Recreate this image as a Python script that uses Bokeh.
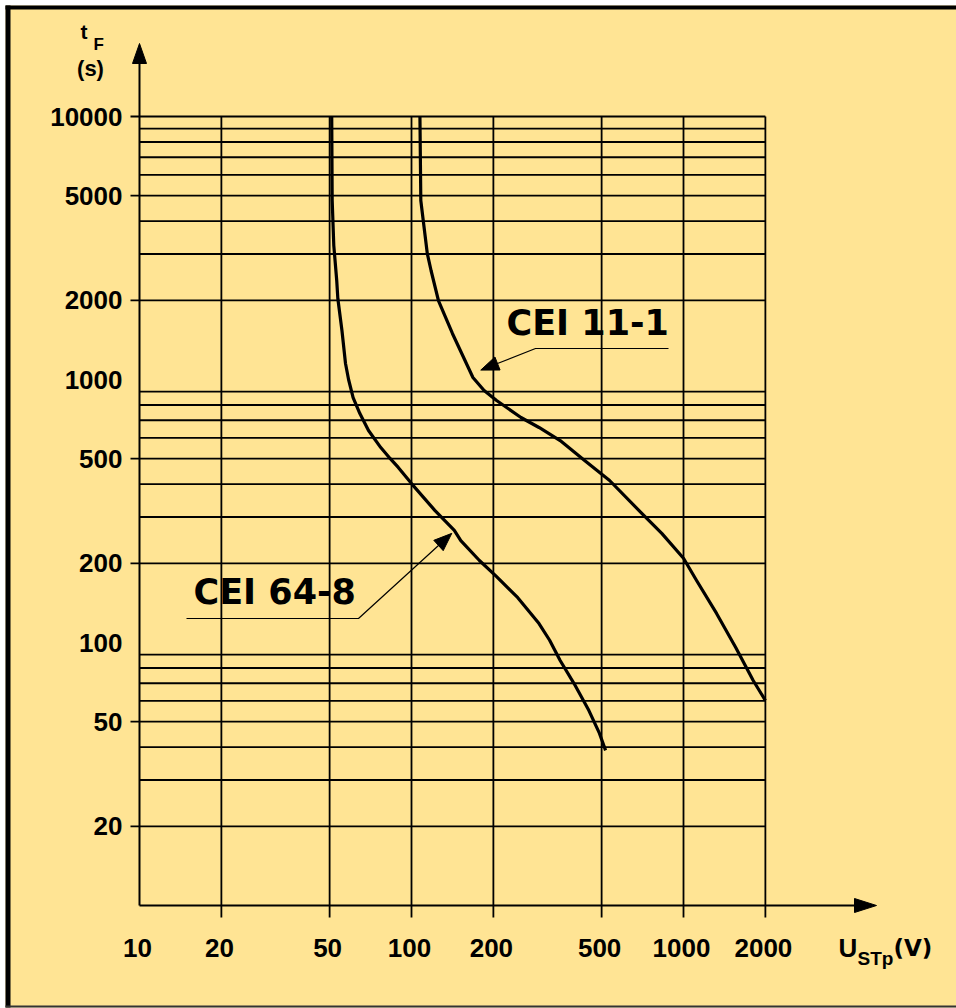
import math
from bokeh.plotting import figure
from bokeh.models import Range1d
from bokeh.core.properties import value
from bokeh.embed import file_html
from bokeh.resources import INLINE

# ---------------- data ----------------
# CEI 64-8 curve: U_STp (V) vs t_F (s)
u_cei_64_8 = [50.9, 51.1, 51.8, 53.1, 53.6, 55.5, 57.2, 58.7, 61.0, 64.6, 69.5, 77.1,
              83.4, 89.4, 100, 121.8, 143.7, 151.8, 177.7, 205.5, 245.9, 294.3, 322,
              352, 396, 449, 491, 517]
t_cei_64_8 = [10000, 4794, 3232, 2379, 2032, 1536, 1150, 1000, 854, 742, 640, 551,
              501, 463, 402, 318, 267, 244, 205, 178, 148, 118, 102,
              85.4, 69.8, 55.1, 45.1, 38.9]

# CEI 11-1 curve
u_cei_11_1 = [107.4, 108.2, 110.8, 114.3, 118.0, 125.6, 141.4, 161.7, 168.2, 184.9,
              205.5, 252.6, 294.3, 352, 433, 535, 704, 832, 1000, 1117, 1323, 1556,
              1804, 2000]
t_cei_11_1 = [10000, 4794, 3920, 3013, 2597, 1997, 1496, 1111, 1018, 908,
              832, 717, 657, 586, 492, 413, 309, 260, 209, 172, 129, 95.7,
              71.7, 60.2]

x_ticks = [10, 20, 50, 100, 200, 500, 1000, 2000]
x_tick_labels = ["10", "20", "50", "100", "200", "500", "1000", "2000"]
y_ticks = [20, 50, 100, 200, 500, 1000, 2000, 5000, 10000]
y_tick_labels = ["20", "50", "100", "200", "500", "1000", "2000", "5000", "10000"]
x_grid = [20, 50, 100, 200, 500, 1000, 2000]
y_grid = [m * 10 ** k for k in (1, 2, 3) for m in range(2, 10)] + [10000]
series_names = ["CEI 64-8", "CEI 11-1"]

# ---------------- layout helpers (screen px -> data) ----------------
W, H = 956, 1008
X0PX, XDEC = 139, 272   # screen x of U=10, px per decade
Y0PX, YDEC = 905, 263   # screen y of t=10, px per decade
X_MIN, X_MAX = 10, 2000
Y_MIN, Y_MAX = 10, 10000


def sx(px):
    return 10 ** (1 + (px - X0PX) / XDEC)


def sy(py):
    return 10 ** (1 + (Y0PX - py) / YDEC)


YELLOW = "#FFE494"
INK = "#000000"
BOLD_SANS = value("Liberation Sans")
WIDE_SANS = value("DejaVu Sans")
GRID_W = 1.8

p = figure(width=W, height=H, x_axis_type="log", y_axis_type="log",
           x_range=Range1d(sx(0), sx(W)), y_range=Range1d(sy(H), sy(0)),
           x_axis_location=None, y_axis_location=None,
           toolbar_location=None, output_backend="svg", min_border=0)
p.outline_line_color = None
p.background_fill_color = "white"
p.border_fill_color = "white"
p.grid.visible = False

# panel background and border
p.quad(left=[sx(5)], right=[sx(W + 5)], bottom=[sy(1007)], top=[sy(5)],
       fill_color=YELLOW, line_color=None)
p.quad(left=[sx(5)], right=[sx(W + 5)], bottom=[sy(9)], top=[sy(5)],
       fill_color=INK, line_color=None)
p.quad(left=[sx(5)], right=[sx(10)], bottom=[sy(1007)], top=[sy(5)],
       fill_color=INK, line_color=None)
p.segment(x0=[sx(5)], y0=[sy(1006)], x1=[sx(W + 5)], y1=[sy(1006)],
          line_color="#333333", line_width=2)

# grid: horizontal lines (labelled ones stick out as ticks)
hx0 = [sx(130) if v in y_ticks else X_MIN for v in y_grid]
p.segment(x0=hx0, y0=y_grid, x1=[X_MAX] * len(y_grid), y1=y_grid,
          line_color=INK, line_width=GRID_W)
# grid: vertical lines (extend below axis as ticks)
p.segment(x0=x_grid, y0=[sy(917)] * len(x_grid), x1=x_grid, y1=[Y_MAX] * len(x_grid),
          line_color=INK, line_width=GRID_W)

# axes with arrow heads
p.segment(x0=[X_MIN], y0=[Y_MIN], x1=[X_MIN], y1=[sy(60)], line_color=INK, line_width=2)
p.segment(x0=[X_MIN], y0=[Y_MIN], x1=[sx(858)], y1=[Y_MIN], line_color=INK, line_width=2)
p.patches(xs=[[X_MIN, sx(132), sx(146)], [sx(876), sx(854), sx(854)]],
          ys=[[sy(43), sy(63), sy(63)], [Y_MIN, sy(898), sy(912)]],
          fill_color=INK, line_color=INK, line_width=1, line_join="round")

# curves
p.line(u_cei_64_8, t_cei_64_8, line_color=INK, line_width=3.2, line_join="round")
p.line(u_cei_11_1, t_cei_11_1, line_color=INK, line_width=3.2, line_join="round")

# tick labels
p.text(x=[X_MIN] * len(y_ticks), y=y_ticks, text=y_tick_labels, x_offset=-17,
       text_align="right", text_baseline="middle", text_font=BOLD_SANS,
       text_font_style="bold", text_font_size="26px", text_color=INK)
p.text(x=x_ticks, y=[Y_MIN] * len(x_ticks), text=x_tick_labels, x_offset=-2, y_offset=42,
       text_align="center", text_baseline="middle", text_font=BOLD_SANS,
       text_font_style="bold", text_font_size="26px", text_color=INK)

# axis titles (y: centre of the text line)
def title(px, py, txt, size, font=BOLD_SANS, align="left"):
    p.text(x=[sx(px)], y=[sy(py)], text=[txt], text_font=font, text_font_style="bold",
           text_font_size=size, text_align=align, text_baseline="middle", text_color=INK)


title(80, 31, "t", "21px")
title(93, 44, "F", "17px")
title(90, 68, "(s)", "22px", align="center")
title(838, 947, "U", "26px")
title(857, 958, "STp", "19px")
title(893, 947, "(V)", "23px", font=WIDE_SANS)

# curve labels with leaders
p.text(x=[sx(193), sx(506)], y=[sy(591), sy(322)], text=series_names,
       text_font=WIDE_SANS, text_font_style="bold", text_font_size="35px",
       text_baseline="middle", text_color=INK)

leaders = [[(186, 618), (358, 618), (438, 545)],
           [(668, 348), (535, 348), (497, 363)]]
heads_x, heads_y = [], []
for pts in leaders:
    p.line([sx(a) for a, b in pts], [sy(b) for a, b in pts], line_color=INK, line_width=1.2)
    (ax, ay), (bx, by) = pts[-2], pts[-1]
    d = math.hypot(bx - ax, by - ay)
    ux, uy = (bx - ax) / d, (by - ay) / d
    tip = (bx + 18 * ux, by + 18 * uy)
    c1 = (bx + 7 * uy, by - 7 * ux)
    c2 = (bx - 7 * uy, by + 7 * ux)
    heads_x.append([sx(tip[0]), sx(c1[0]), sx(c2[0])])
    heads_y.append([sy(tip[1]), sy(c1[1]), sy(c2[1])])
p.patches(xs=heads_x, ys=heads_y, fill_color=INK, line_color=INK, line_join="round")

open("out.html", "w").write(file_html(p, INLINE))
